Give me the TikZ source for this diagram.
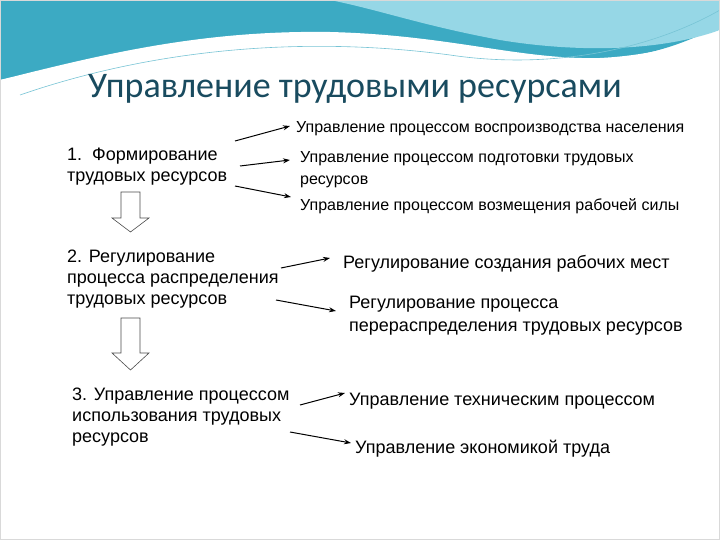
\documentclass[tikz,border=0pt]{standalone}
\usepackage{fontspec}
\setmainfont{Liberation Sans}
\newfontfamily\titlefont{Carlito}
\usetikzlibrary{arrows.meta}
\definecolor{teal1}{RGB}{60,170,195}
\definecolor{teal2}{RGB}{150,215,230}
\definecolor{titlec}{RGB}{25,75,95}
\tikzset{
  lbl/.style={anchor=base west,inner sep=0pt,font=\fontsize{18}{21}\selectfont,align=left},
  sml/.style={anchor=base west,inner sep=0pt,font=\fontsize{16}{22}\selectfont,align=left},
  con/.style={-{Stealth[length=7pt,width=5pt]},line width=1pt},
  blk/.style={draw=black!70,fill=white,line width=0.6pt}
}
\begin{document}
\begin{tikzpicture}[x=1pt,y=-1pt]
\useasboundingbox (0,0) rectangle (720,540);
\fill[white] (0,0) rectangle (720,540);
% waves
\fill[teal1] (0,0) -- (720,0) -- (720,25) .. controls (620,80) and (520,60) .. (420,45) .. controls (250,20) and (100,60) .. (0,80) -- cycle;
\fill[teal2] (330,0) -- (720,0) -- (720,30) .. controls (650,55) and (560,50) .. (500,40) .. controls (420,25) and (380,10) .. (330,0) -- cycle;
\fill[white] (0,80) .. controls (100,55) and (200,30) .. (330,32) .. controls (450,35) and (520,60) .. (600,58) .. controls (660,55) and (700,40) .. (720,30) -- (720,60) .. controls (650,75) and (550,80) .. (450,70) .. controls (300,50) and (150,60) .. (0,100) -- cycle;
\draw[teal1!70,line width=0.6pt] (20,95) .. controls (150,50) and (300,35) .. (450,55) .. controls (550,70) and (650,50) .. (720,10);
\draw[black!15] (0.5,0.5) rectangle (719.5,539.5);
% title
\node[anchor=base west,inner sep=0pt,text=titlec,font=\titlefont\fontsize{36}{40}\selectfont] (title) at (88,98) {Управление трудовыми ресурсами};
% left column
\node[lbl] (a1) at (67,182) {1.\ \ Формирование\\трудовых ресурсов};
\node[lbl] (a2) at (67,304) {2. Регулирование\\процесса распределения\\трудовых ресурсов};
\node[lbl] (a3) at (72,442) {3. Управление процессом\\использования трудовых\\ресурсов};
% right column
\node[sml] (r1) at (296,133) {Управление процессом воспроизводства населения};
\node[sml] (r2) at (300,185) {Управление процессом подготовки трудовых\\ресурсов};
\node[sml] (r3) at (300,211) {Управление процессом возмещения рабочей силы};
\node[lbl] (r4) at (343,268) {Регулирование создания рабочих мест};
\node[lbl,font=\fontsize{18}{23}\selectfont] (r5) at (349,331) {Регулирование процесса\\перераспределения трудовых ресурсов};
\node[lbl] (r6) at (349,405) {Управление техническим процессом};
\node[lbl] (r7) at (355,453) {Управление экономикой труда};
% connectors
\coordinate (s1) at (235,141); \coordinate (e1) at (290,126);
\coordinate (s2) at (240,166); \coordinate (e2) at (290,160);
\coordinate (s3) at (235,186); \coordinate (e3) at (291,197);
\coordinate (s4) at (281,268); \coordinate (e4) at (330,258);
\coordinate (s5) at (276,300); \coordinate (e5) at (336,311);
\coordinate (s6) at (300,405); \coordinate (e6) at (345,393);
\coordinate (s7) at (290,432); \coordinate (e7) at (351,443);
\foreach \i in {1,...,7}{\draw[con] (s\i) -- (e\i);}
% block arrows
\draw[blk] (121,192) -- (140,192) -- (140,218) -- (149,218) -- (130.5,232) -- (112,218) -- (121,218) -- cycle;
\draw[blk] (121,318) -- (140,318) -- (140,353) -- (149,353) -- (130.5,370) -- (112,353) -- (121,353) -- cycle;
\end{tikzpicture}
\end{document}
